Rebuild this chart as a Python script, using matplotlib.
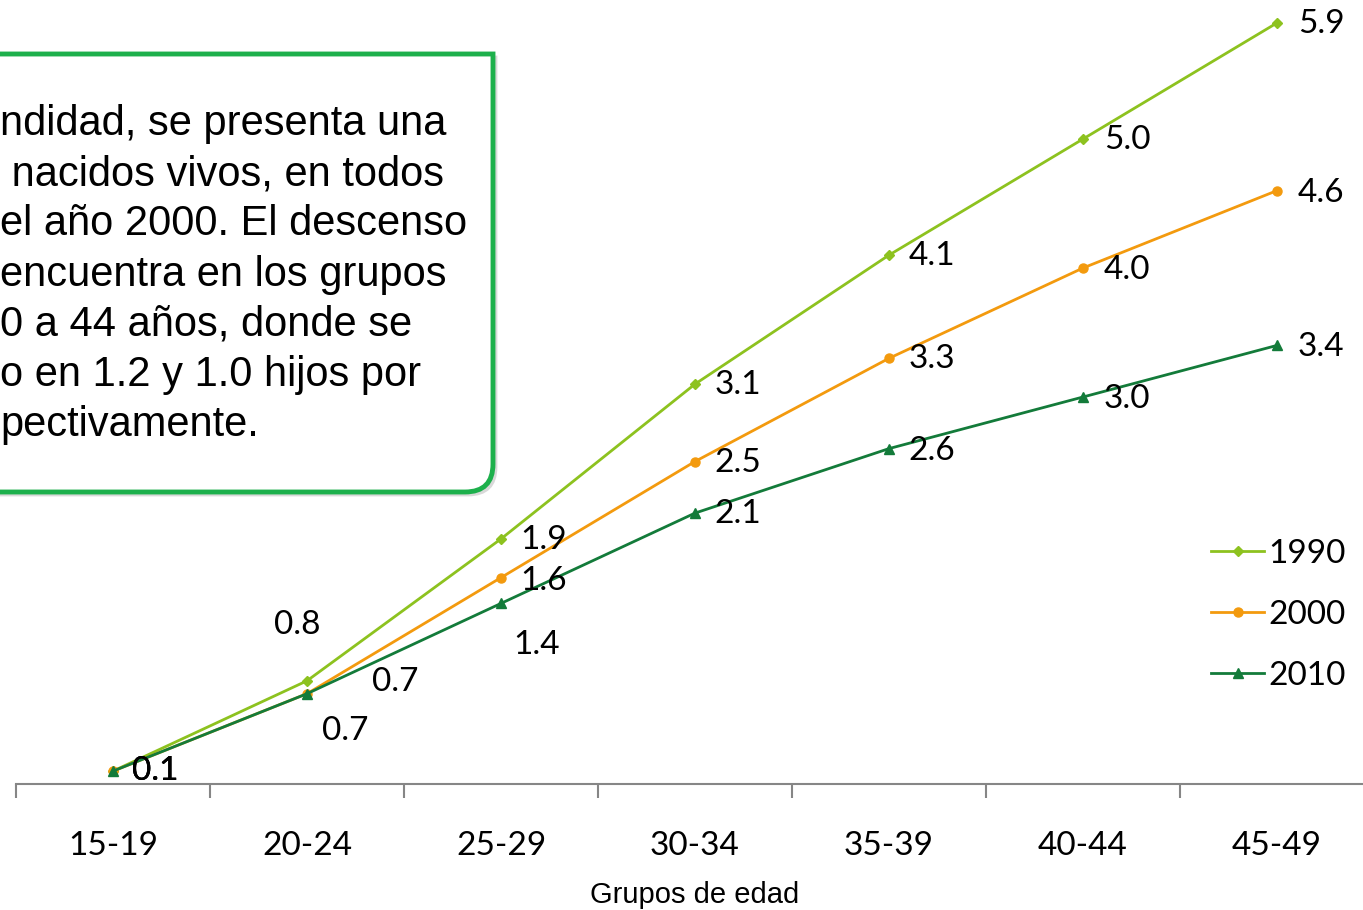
import matplotlib.pyplot as plt
from matplotlib.path import Path
from matplotlib.patches import PathPatch
from matplotlib.lines import Line2D

grupos = ["15-19", "20-24", "25-29", "30-34", "35-39", "40-44", "45-49"]
anios = ["1990", "2000", "2010"]
v1990 = [0.1, 0.8, 1.9, 3.1, 4.1, 5.0, 5.9]
v2000 = [0.1, 0.7, 1.6, 2.5, 3.3, 4.0, 4.6]
v2010 = [0.1, 0.7, 1.4, 2.1, 2.6, 3.0, 3.4]

texto = ("ndidad, se presenta una\n"
         " nacidos vivos, en todos\n"
         "el año 2000. El descenso\n"
         "encuentra en los grupos\n"
         "0 a 44 años, donde se\n"
         "o en 1.2 y 1.0 hijos por\n"
         "pectivamente.")

colores = ["#8DC21F", "#F39A0E", "#137B3A"]
marcadores = ["D", "o", "^"]
msizes = [5, 6.5, 7]
# label offsets in pixels (dx, dy up)
off = [
    [(42, 0), (-10, 56), (43, -1), (43, -1), (43, -1), (44, -1), (44, -1)],
    [(42, 0), (88, 12), (43, -3), (43, -1), (43, -1), (44, -2), (44, -2)],
    [(42, 0), (38, -37), (36, -42), (43, -1), (43, -2), (44, -2), (44, -2)],
]

W, H = 1363, 910
fig = plt.figure(figsize=(W / 100, H / 100), dpi=100)
ax = fig.add_axes([16 / W, 126 / H, 7 * 194 / W, 774 / H])

x = range(len(grupos))
series = [v1990, v2000, v2010]
for i, vals in enumerate(series):
    ax.plot(x, vals, color=colores[i], lw=2, marker=marcadores[i],
            markersize=msizes[i], label=anios[i], zorder=3)
    for j, v in enumerate(vals):
        dx, dy = off[i][j]
        ax.annotate(f"{v:.1f}", (j, v), xytext=(dx * 0.72, dy * 0.72),
                    textcoords="offset points", ha="center", va="center",
                    fontsize=24, family="Lato", color="black", zorder=4)

ax.set_xlim(-0.5, len(grupos) - 0.5)
ax.set_ylim(0, 6)
ax.set_yticks([])
for s in ["top", "right", "left"]:
    ax.spines[s].set_visible(False)
ax.spines["bottom"].set_color("#868686")
ax.spines["bottom"].set_linewidth(1.5)
ax.set_xticks(list(x))
ax.set_xticklabels(grupos, fontsize=24, family="Lato")
ax.set_xticks([k - 0.5 for k in range(len(grupos) + 1)], minor=True)
ax.tick_params(axis="x", which="major", length=0, pad=34)
ax.tick_params(axis="x", which="minor", length=10, width=1.5, color="#868686")
ax.set_xlabel("Grupos de edad", fontsize=21, family="Liberation Sans", labelpad=14)
ax.patch.set_alpha(0)

handles = [Line2D([0], [0], color=colores[i], lw=2, marker=marcadores[i],
                  markersize=msizes[i]) for i in range(3)]
fig.legend(handles, anios, loc="center left", bbox_to_anchor=(1181 / W, 1 - 615 / H),
           frameon=False, prop={"family": "Lato", "size": 24},
           handlelength=1.6, handletextpad=0.12, labelspacing=0.93)

# text box (cut off at the left edge)
x0, x1 = -20 / W, 493 / W
y0, y1 = 1 - 492 / H, 1 - 54 / H
rx, ry = 28 / W, 28 / H
verts = [(x0, y1), (x1, y1), (x1, y0 + ry), (x1, y0), (x1 - rx, y0), (x0, y0), (x0, y1)]
codes = [Path.MOVETO, Path.LINETO, Path.LINETO, Path.CURVE3, Path.CURVE3,
         Path.LINETO, Path.CLOSEPOLY]
sombra = [(vx + 3 / W, vy - 3 / H) for vx, vy in verts]
fig.patches.append(PathPatch(Path(sombra, codes), transform=fig.transFigure,
                             facecolor="#d9d9d9", edgecolor="#d9d9d9", lw=2, zorder=1))
fig.patches.append(PathPatch(Path(verts, codes), transform=fig.transFigure,
                             facecolor="white", edgecolor="#1DB04C", lw=3.5, zorder=2))
fig.text(0 / W, 1 - 104 / H, texto, ha="left", va="top", fontsize=30,
         family="Liberation Sans", linespacing=1.33, zorder=5)

fig.savefig("out.png", dpi=100)
